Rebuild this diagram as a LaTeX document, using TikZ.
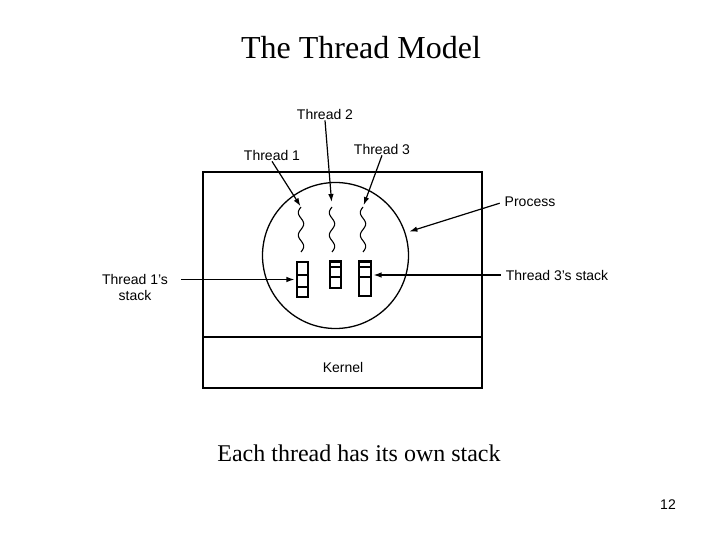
\documentclass[tikz,border=0pt]{standalone}
\usepackage{fontspec}
\setmainfont{Liberation Serif}
\setsansfont{Liberation Sans}
\usepackage{tikz}
\usetikzlibrary{arrows.meta,positioning,calc}
\newcommand{\lblfont}{\sffamily\fontsize{14}{16}\selectfont}

\begin{document}
\begin{tikzpicture}[x=1pt,y=-1pt,
    lbl/.style={font=\lblfont,inner sep=1pt},
    ptr/.style={-{Latex[length=8pt,width=5.5pt]},line width=1.2pt},
    wire/.style={line width=1.1pt},
    stk/.style={draw,line width=1.1pt,inner sep=0pt,minimum width=11pt}]
  \useasboundingbox (0,0) rectangle (720,540);

  % title and caption
  \node[font=\fontsize{32}{36}\selectfont] (title) at (361,48) {The Thread Model};
  \node[font=\fontsize{24}{28}\selectfont] (cap) at (359,453) {Each thread has its own stack};
  \node[font=\sffamily\fontsize{14}{16}\selectfont] (pg) at (668,505) {12};

  % machine: process area over kernel
  \draw[line width=1.3pt] (203,172) rectangle (482,388);
  \draw[line width=1.3pt] (203,337) -- (482,337);
  \node[lbl] (kern) at (343,367) {Kernel};

  % process
  \node[draw,circle,line width=1.3pt,inner sep=0pt,minimum size=146pt] (pc) at (335.5,255.5) {};

  % threads (wavy lines)
  \foreach \n/\x in {w1/301,w2/332,w3/363}{
    \coordinate (\n) at (\x,207);
    \draw[wire] plot[domain=0:45,samples=60,smooth,variable=\t]
      ({\x-2.7*sin(\t*360/22.5)},{207+\t});
  }

  % stacks
  \node[stk,minimum height=35pt] (s1) at (302.5,279.5) {};
  \node[stk,minimum height=27pt] (s2) at (335.5,274.5) {};
  \node[stk,minimum height=35pt,minimum width=12pt] (s3) at (365,278.5) {};
  \foreach \s/\y in {s1/275,s1/287,s2/267,s2/277,s3/267,s3/277}
    \draw[wire] (\s.west |- 0,\y) -- (\s.east |- 0,\y);
  \foreach \s in {s2,s3}
    \draw[line width=2.4pt] ([yshift=-1.2pt]\s.north west) -- ([yshift=-1.2pt]\s.north east);

  % labels
  \node[lbl] (th1) at (272,155) {Thread 1};
  \node[lbl] (th2) at (325,114) {Thread 2};
  \node[lbl] (th3) at (382,149) {Thread 3};
  \node[lbl] (proc) at (530,202) {Process};
  \node[lbl,align=center] (t1s) at (135,287) {Thread 1's\\stack};
  \node[lbl] (t3s) at (557,275) {Thread 3's stack};

  % pointers
  \draw[ptr,shorten >=1pt] (th1.south) -- (w1);
  \draw[ptr,shorten >=5pt] (th2.south) -- (w2);
  \draw[ptr,shorten >=2pt] (th3.south) -- (w3);
  \draw[ptr,shorten <=4pt,shorten >=4pt] (proc.west) -- (pc.18);
  \draw[ptr,shorten <=12pt,shorten >=2pt] (t1s.east |- s1.west) -- (s1.west);
  \draw[ptr,shorten <=4pt,shorten >=2pt] (t3s.west) -- (s3.east |- t3s.west);
\end{tikzpicture}
\end{document}
